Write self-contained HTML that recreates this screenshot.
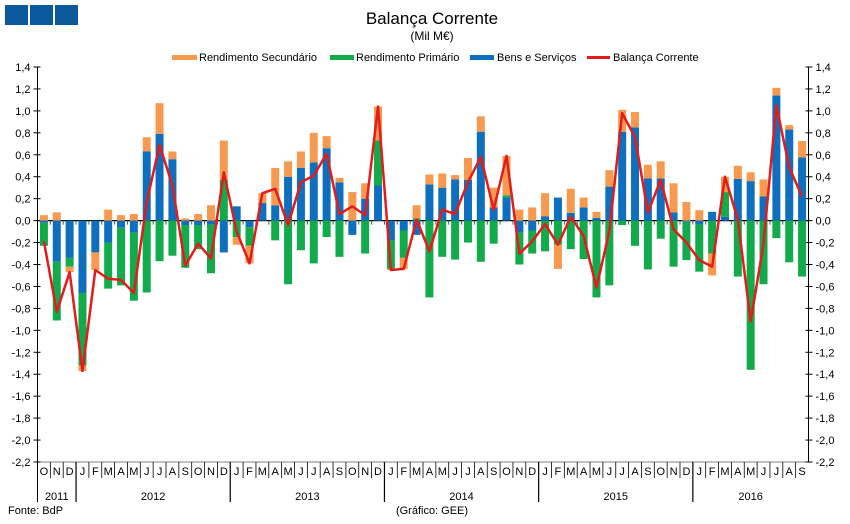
<!DOCTYPE html>
<html><head><meta charset="utf-8"><style>
body{margin:0;background:#fff;}
svg{display:block;font-family:"Liberation Sans",sans-serif;}
</style></head><body>
<svg id="chart" width="850" height="524" viewBox="0 0 850 524">
<rect x="5" y="5" width="23" height="20" fill="#0b5a9e"/>
<rect x="30" y="5" width="23" height="20" fill="#0b5a9e"/>
<rect x="55" y="5" width="23" height="20" fill="#0b5a9e"/>
<text x="432" y="24" font-size="17" text-anchor="middle" fill="#000">Balança Corrente</text>
<text x="432" y="40" font-size="12" text-anchor="middle" fill="#000">(Mil M€)</text>
<g font-size="11" fill="#000">
<g><rect x="172" y="55" width="25" height="5" fill="#f79a4f"/><text x="199" y="61">Rendimento Secundário</text></g>
<g><rect x="330" y="55" width="24" height="5" fill="#12ab4b"/><text x="356" y="61">Rendimento Primário</text></g>
<g><rect x="470" y="55" width="24" height="5" fill="#0f6fbf"/><text x="497" y="61">Bens e Serviços</text></g>
<g><rect x="587" y="56" width="23" height="3" fill="#e31b1b"/><text x="613" y="61">Balança Corrente</text></g>
</g>
<g id="axes"></g>
<g id="bars"></g>
<g id="line"></g>
<text x="8" y="514" font-size="11">Fonte: BdP</text>
<text x="432" y="514" font-size="11" text-anchor="middle">(Gráfico: GEE)</text>
</svg>
<script>
const months = ["O","N","D","J","F","M","A","M","J","J","A","S","O","N","D","J","F","M","A","M","J","J","A","S","O","N","D","J","F","M","A","M","J","J","A","S","O","N","D","J","F","M","A","M","J","J","A","S","O","N","D","J","F","M","A","M","J","J","A","S"];
const years = ["2011","2012","2013","2014","2015","2016"];
const bens = [-0.02,-0.375,-0.34,-0.66,-0.29,-0.2,-0.065,-0.11,0.63,0.79,0.56,-0.04,-0.04,-0.035,-0.29,0.13,-0.06,0.16,0.14,0.40,0.48,0.53,0.66,0.35,-0.13,0.20,0.32,-0.18,-0.09,-0.13,0.33,0.30,0.375,0.37,0.81,0.12,0.21,-0.11,-0.09,0.04,0.21,0.07,0.12,0.025,0.31,0.81,0.85,0.385,0.385,0.075,-0.01,-0.035,0.08,0.035,0.38,0.36,0.22,1.14,0.83,0.575];
const primario = [-0.21,-0.535,-0.08,-0.66,0,-0.42,-0.525,-0.62,-0.655,-0.37,-0.32,-0.39,-0.22,-0.445,0.37,-0.15,-0.17,0,-0.18,-0.58,-0.27,-0.39,-0.15,-0.33,0,-0.30,0.41,-0.26,-0.25,0.02,-0.70,-0.33,-0.355,-0.20,-0.375,-0.21,0.02,-0.29,-0.21,-0.28,-0.22,-0.26,-0.35,-0.70,-0.59,-0.04,-0.23,-0.445,-0.165,-0.42,-0.35,-0.43,-0.30,0.225,-0.51,-1.36,-0.58,-0.16,-0.38,-0.51];
const secundario = [0.05,0.075,-0.05,-0.05,-0.16,0.1,0.05,0.06,0.13,0.28,0.07,0.02,0.06,0.14,0.36,-0.07,-0.16,0.09,0.34,0.14,0.15,0.27,0.11,0.04,0.26,0.14,0.31,-0.01,-0.10,0.12,0.09,0.13,0.04,0.20,0.14,0.18,0.36,0.10,0.12,0.21,-0.22,0.22,0.09,0.055,0.15,0.20,0.14,0.125,0.155,0.265,0.17,0.095,-0.20,0.14,0.12,0.08,0.155,0.07,0.04,0.15];
const balanca = [-0.19,-0.83,-0.47,-1.37,-0.45,-0.53,-0.54,-0.66,0.17,0.69,0.32,-0.41,-0.21,-0.345,0.44,-0.10,-0.39,0.25,0.29,-0.04,0.35,0.41,0.61,0.06,0.13,0.05,1.04,-0.45,-0.44,0.01,-0.28,0.10,0.06,0.35,0.58,0.10,0.59,-0.30,-0.19,-0.03,-0.22,0.035,-0.14,-0.61,-0.10,0.98,0.76,0.075,0.37,-0.08,-0.20,-0.36,-0.42,0.40,0.01,-0.92,-0.21,1.05,0.485,0.22];
const yTicks = [1.4,1.2,1.0,0.8,0.6,0.4,0.2,0.0,-0.2,-0.4,-0.6,-0.8,-1.0,-1.2,-1.4,-1.6,-1.8,-2.0,-2.2];

const NS="http://www.w3.org/2000/svg";
const L=37.5,R=808.5,T=67,B=462,YMAX=1.4,YMIN=-2.2;
const step=(R-L)/months.length;
const y=v=>T+(YMAX-v)/(YMAX-YMIN)*(B-T);
const x=i=>L+step*(i+0.5);
function mk(tag,attrs,parent){const e=document.createElementNS(NS,tag);for(const k in attrs)e.setAttribute(k,attrs[k]);parent.appendChild(e);return e;}
const ax=document.getElementById('axes');
const fmt=v=>v.toFixed(1).replace('.',',').replace('-0,0','0,0');
mk('line',{x1:L,y1:T,x2:L,y2:502,stroke:'#000','stroke-width':1},ax);
mk('line',{x1:R,y1:T,x2:R,y2:B,stroke:'#000','stroke-width':1},ax);
yTicks.forEach(v=>{
  const yy=y(v);
  mk('line',{x1:L-4,y1:yy,x2:L+3,y2:yy,stroke:'#000'},ax);
  mk('line',{x1:R-3,y1:yy,x2:R+4,y2:yy,stroke:'#000'},ax);
  const t1=mk('text',{x:L-7,y:yy+4,'font-size':11,'text-anchor':'end'},ax);
  t1.textContent=fmt(v);
  
  
  const t2=mk('text',{x:R+7,y:yy+4,'font-size':11},ax);
  t2.textContent=fmt(v);
  
  
});
mk('line',{x1:L,y1:y(0),x2:R,y2:y(0),stroke:'#000','stroke-width':1.2},ax);
mk('line',{x1:L,y1:B,x2:R,y2:B,stroke:'#000','stroke-width':0.6},ax);
let yearStarts=[];
months.forEach((m,i)=>{
  const xb=L+step*i;
  if(i>0){
    const isYear=(m==="J"&&months[i-1]==="D");
    if(isYear)yearStarts.push(i);
    mk('line',{x1:xb,y1:B,x2:xb,y2:isYear?502:478,stroke:'#000','stroke-width':isYear?1.2:0.8},ax);
    mk('line',{x1:xb,y1:y(0),x2:xb,y2:y(0)+4,stroke:'#555','stroke-width':1},ax);
  }
  const t=mk('text',{x:x(i),y:475,'font-size':11,'text-anchor':'middle'},ax);
  t.textContent=m;
  
  
});
const bounds=[0,...yearStarts,months.length];
years.forEach((yr,k)=>{
  const cx=L+step*(bounds[k]+bounds[k+1])/2;
  const t=mk('text',{x:cx,y:500,'font-size':11,'text-anchor':'middle'},ax);
  t.textContent=yr;
  
  
});
const bg=document.getElementById('bars');
const series=[[bens,'#0f6fbf','bar-bens-servicos'],[primario,'#12ab4b','bar-rendimento-primario'],[secundario,'#f79a4f','bar-rendimento-secundario']];
const bw=8;
months.forEach((m,i)=>{
  let pos=0,neg=0;
  series.forEach(([arr,col,nm])=>{
    const v=arr[i];
    let a,b;
    if(v>=0){a=pos;b=pos+v;pos=b;}else{a=neg;b=neg+v;neg=b;}
    const r=mk('rect',{x:x(i)-bw/2,y:Math.min(y(a),y(b)),width:bw,height:Math.abs(y(a)-y(b)),fill:col},bg);
    
    
  });
});
const lg=document.getElementById('line');
const p=mk('polyline',{points:balanca.map((v,i)=>x(i)+','+y(v)).join(' '),fill:'none',stroke:'#e31b1b','stroke-width':2.5,'stroke-linejoin':'round'},lg);


</script>
</body></html>
